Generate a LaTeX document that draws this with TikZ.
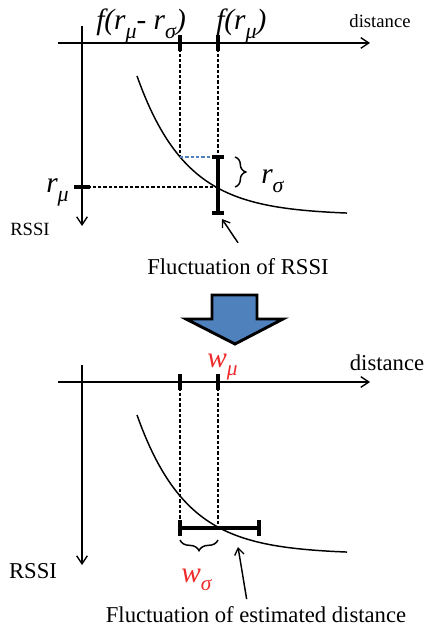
\documentclass[tikz,border=0pt]{standalone}
\usepackage{fontspec}
\setmainfont{Liberation Serif}
\usetikzlibrary{arrows.meta,positioning,calc,decorations.pathreplacing}
\definecolor{officeblue}{HTML}{4F81BD}
\definecolor{labelred}{HTML}{EE2A2A}
\newcommand{\lowsub}[2]{\raisebox{-0.65ex}{\fontsize{#1}{#1}\selectfont #2}}

\begin{document}
\begin{tikzpicture}[x=0.75pt,y=-0.75pt,
   axis/.style={line width=1.1pt,-{Straight Barb[length=6pt,width=8pt,line width=1pt]}},
   tickmark/.style={line width=2.4pt},
   guide/.style={dash pattern=on 2.5pt off 1.5pt,line width=0.8pt},
   curve/.style={line width=1.1pt},
   errbar/.style={line width=2.4pt},
   pointer/.style={line width=1.1pt,-{Straight Barb[length=5pt,width=7pt,line width=1pt]}},
   cbrace/.style={decorate,decoration={brace,amplitude=8pt},line width=1.1pt},
   lbl/.style={inner sep=0pt}]
  \useasboundingbox (0,0) rectangle (426,630);

  % upper panel: RSSI against distance
  \coordinate (xs1) at (58,43);  \coordinate (xe1) at (370,43);
  \coordinate (ys1) at (82,26);  \coordinate (ye1) at (82,226);
  \draw[axis] (xs1) -- (xe1);
  \draw[axis] (ys1) -- (ye1);
  \draw[curve] plot[domain=137:347,samples=80] (\x,{215-139*exp(-0.0203*(\x-137))});
  \coordinate (ta1) at (180,43);  \coordinate (tb1) at (218,43);
  \coordinate (pa1) at (180,157); \coordinate (pb1) at (218,187);
  \coordinate (bt1) at (218,157); \coordinate (bb1) at (218,213);
  \coordinate (rm1) at (82,187);
  \draw[tickmark] ([yshift=6pt]ta1) -- ([yshift=-6pt]ta1);
  \draw[tickmark] ([yshift=6pt]tb1) -- ([yshift=-6pt]tb1);
  \draw[guide] (ta1) -- (pa1);
  \draw[guide] (tb1) -- (bt1);
  \draw[guide,draw=officeblue] (pa1) -- (bt1);
  \draw[guide] (rm1) -- (pb1);
  \draw[tickmark] ([xshift=-6pt]rm1) -- ([xshift=6pt]rm1);
  \draw[errbar] (bt1) -- (bb1);
  \draw[errbar] ([xshift=-4.5pt]bt1) -- ([xshift=4.5pt]bt1);
  \draw[errbar] ([xshift=-4.5pt]bb1) -- ([xshift=4.5pt]bb1);
  \coordinate (bra1) at (235,157); \coordinate (brb1) at (235,187);
  \draw[cbrace] (bra1) -- (brb1);

  \node[lbl,anchor=base west] (fdiff) at (96,30)
    {\fontsize{22}{26}\selectfont\itshape f(r\lowsub{16.5}{μ}- r\lowsub{16.5}{σ})};
  \node[lbl,anchor=base west] (fmean) at (216,30)
    {\fontsize{22}{26}\selectfont\itshape f(r\lowsub{16.5}{μ})};
  \node[lbl,anchor=base] (dist1) at (380,28) {\fontsize{14}{16}\selectfont distance};
  \node[lbl,anchor=base east] (rmu) at (69,193)
    {\fontsize{22}{26}\selectfont\itshape r\lowsub{16.5}{μ}};
  \node[lbl,anchor=base west] (rsig) at (261,184)
    {\fontsize{22}{26}\selectfont\itshape r\lowsub{16.5}{σ}};
  \node[lbl,anchor=base] (rssi1) at (30,236) {\fontsize{14}{16}\selectfont RSSI};
  \node[lbl,anchor=base] (flucR) at (238,275) {\fontsize{17}{20}\selectfont Fluctuation of RSSI};
  \coordinate (tipR) at (222,219);
  \draw[pointer] ([yshift=12pt]flucR.north) -- (tipR);

  % block arrow between the panels
  \draw[line width=2.2pt,fill=officeblue,line join=miter]
    (212,295) -- (257,295) -- (257,319) -- (283,319) -- (235,344)
    -- (186,319) -- (212,319) -- cycle;

  % lower panel: estimated distance
  \coordinate (xs2) at (58,382);  \coordinate (xe2) at (370,382);
  \coordinate (ys2) at (82,365);  \coordinate (ye2) at (82,565);
  \draw[axis] (xs2) -- (xe2);
  \draw[axis] (ys2) -- (ye2);
  \draw[curve] plot[domain=137:347,samples=80] (\x,{554-139*exp(-0.0203*(\x-137))});
  \coordinate (ta2) at (180,382); \coordinate (tb2) at (218,382);
  \coordinate (ba2) at (180,528); \coordinate (bm2) at (218,528);
  \coordinate (bb2) at (259,528);
  \draw[tickmark] ([yshift=6pt]ta2) -- ([yshift=-6pt]ta2);
  \draw[tickmark] ([yshift=6pt]tb2) -- ([yshift=-6pt]tb2);
  \draw[guide] (ta2) -- (ba2);
  \draw[guide] (tb2) -- (bm2);
  \draw[errbar] (ba2) -- (bb2);
  \draw[errbar] ([yshift=-6pt]ba2) -- ([yshift=6pt]ba2);
  \draw[errbar] ([yshift=-6pt]bb2) -- ([yshift=6pt]bb2);
  \coordinate (bra2) at (218,540); \coordinate (brb2) at (180,540);
  \draw[cbrace] (bra2) -- (brb2);

  \node[lbl,anchor=base west,text=labelred] (wmu) at (207,367)
    {\fontsize{22}{26}\selectfont\itshape w\lowsub{16}{μ}};
  \node[lbl,anchor=base west,text=labelred] (wsig) at (181,582)
    {\fontsize{22}{26}\selectfont\itshape w\lowsub{16}{σ}};
  \node[lbl,anchor=base] (dist2) at (387,370) {\fontsize{17}{20}\selectfont distance};
  \node[lbl,anchor=base] (rssi2) at (33,578) {\fontsize{17}{20}\selectfont RSSI};
  \node[lbl,anchor=base] (flucD) at (256,622)
    {\fontsize{17}{20}\selectfont Fluctuation of estimated distance};
  \coordinate (tipD) at (238,547);
  \draw[pointer] ([xshift=-7pt,yshift=5pt]flucD.north) -- (tipD);
\end{tikzpicture}
\end{document}
